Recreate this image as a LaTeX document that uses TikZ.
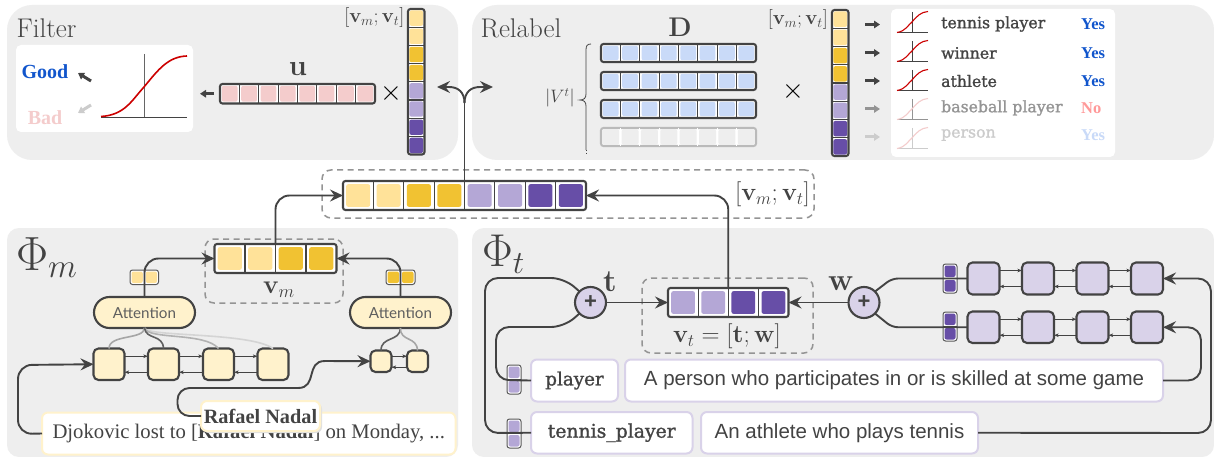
\RequirePackage{fix-cm}
\documentclass[tikz,border=0pt]{standalone}
\usepackage[no-math]{fontspec}
\usetikzlibrary{arrows.meta,calc}
\newfontfamily\slab[FakeBold=1.3]{DejaVu Serif}
\newfontfamily\tnr{Liberation Serif}
\newfontfamily\arial{Liberation Sans}
\newfontfamily\lato{Lato}
\definecolor{ink}{HTML}{434343}
\definecolor{panel}{HTML}{EEEEEE}
\definecolor{ylL}{HTML}{FFE299}
\definecolor{ylD}{HTML}{F1C232}
\definecolor{ppL}{HTML}{B4A7D6}
\definecolor{ppD}{HTML}{674EA7}
\definecolor{pink}{HTML}{F4CCCC}
\definecolor{blueL}{HTML}{C9DAF8}
\definecolor{blueD}{HTML}{1155CC}
\definecolor{yelBox}{HTML}{FFF2CC}
\definecolor{purBox}{HTML}{D9D2E9}
\definecolor{redC}{HTML}{CC0000}
\newcommand{\fsz}[1]{\fontsize{#1}{#1}\selectfont}
\newcommand{\mkbox}[7]{%
  \pgfmathsetmacro\cxx{((#3)+(#5))/2}\pgfmathsetmacro\cyy{((#4)+(#6))/2}%
  \pgfmathsetmacro\ww{abs((#5)-(#3))}\pgfmathsetmacro\hh{abs((#6)-(#4))}%
  \node[#2,minimum width=\ww pt,minimum height=\hh pt,inner sep=0pt,outer sep=0pt] (#1) at (\cxx,\cyy) {#7};}
\def\divc{ink}
% name x1 y1 x2 y2 line inset colours linewidth
\newcommand{\hvec}[9]{%
  \mkbox{#1}{draw=#6,line width=#9,fill=white,rounded corners=2.5}{#2+1}{#3+1}{#4-1}{#5-1}{}%
  \foreach \cc [count=\k] in {#8} {\xdef\nk{\k}}%
  \pgfmathsetmacro\cw{(#4-#2-2)/\nk}%
  \foreach \cc [count=\i from 0] in {#8} {%
    \fill[\cc,rounded corners=2] ({#2+1+\i*\cw+#7},{#3+1+#7}) rectangle ({#2+1+(\i+1)*\cw-#7},{#5-1-#7});
    \ifnum\i>0 \draw[\divc,line width=1.2] ({#2+1+\i*\cw},{#3+1}) -- ({#2+1+\i*\cw},{#5-1}); \fi
  }}
\newcommand{\vvec}[9]{%
  \mkbox{#1}{draw=#6,line width=#9,fill=white,rounded corners=2.5}{#2+1}{#3+1}{#4-1}{#5-1}{}%
  \foreach \cc [count=\k] in {#8} {\xdef\nk{\k}}%
  \pgfmathsetmacro\cw{(#5-#3-2)/\nk}%
  \foreach \cc [count=\i from 0] in {#8} {%
    \fill[\cc,rounded corners=2] ({#2+1+#7},{#3+1+\i*\cw+#7}) rectangle ({#4-1-#7},{#3+1+(\i+1)*\cw-#7});
    \ifnum\i>0 \draw[\divc,line width=1.2] ({#2+1},{#3+1+\i*\cw}) -- ({#4-1},{#3+1+\i*\cw}); \fi
  }}
\tikzset{
  panelbox/.style={fill=panel,rounded corners=#1},
  whitebox/.style={fill=white,rounded corners=5},
  dashbox/.style={draw=black!42,line width=1.5,dash pattern=on 6pt off 4.5pt,rounded corners=9},
  conn/.style={draw=ink,line width=1.9,-{Stealth[length=13pt,width=12pt,inset=4.5pt]}},
  plainc/.style={draw=ink,line width=1.9},
  fat/.style={line width=3,-{Triangle[length=6pt,width=7.5pt]}},
  thin arrow/.style={draw=ink,line width=0.9,-{Stealth[length=4.5pt,width=3.5pt,inset=1pt]}},
  lstmY/.style={draw=ink,line width=2.1,fill=yelBox,rounded corners=5},
  lstmP/.style={draw=ink,line width=2.1,fill=purBox,rounded corners=5},
  pill/.style={draw=ink,line width=2.1,fill=yelBox,rounded corners=15.5,text=ink!85,font=\lato\fsz{15.2}},
  ybox/.style={draw=yelBox,line width=2,fill=white,rounded corners=6,text=ink},
  pbox/.style={draw=purBox,line width=2,fill=white,rounded corners=6,text=ink},
  plusn/.style={circle,draw=ink,line width=2.1,fill=purBox,minimum size=31pt,inner sep=0pt,outer sep=0pt,text=ink,font=\arial\bfseries\fsz{22}},
  lab/.style={text=ink,inner sep=0pt},
}
\begin{document}
\begin{tikzpicture}[x=1pt,y=-1pt]
\useasboundingbox (0,0) rectangle (1214,457);
\fill[white] (0,0) rectangle (1214,457);
% panels
\fill[panelbox=25] (7,5) rectangle (458,160);
\fill[panelbox=25] (472,5) rectangle (1214,160);
\fill[panelbox=12] (7,228) rectangle (458,457);
\fill[panelbox=12] (472,228) rectangle (1214,457);
\node[lab,font=\fsz{27}] (tfilter) at (46.5,28.5) {Filter};
\node[lab,font=\fsz{27}] (trelabel) at (521,28.5) {Relabel};
\node[lab,font=\fsz{48},anchor=west] (tphim) at (16,258) {$\Phi_m$};
\node[lab,font=\fsz{46},anchor=west] (tphit) at (482,254) {$\Phi_t$};

% Filter panel
\fill[whitebox] (16,45) rectangle (193,132);
\node[inner sep=0pt,text=blueD,font=\tnr\bfseries\fsz{20}] (good) at (45,72) {Good};
\node[inner sep=0pt,text=pink,font=\tnr\bfseries\fsz{20}] (bad) at (45,118) {Bad};
\coordinate (ga) at (91,81); \coordinate (gb) at (78,73);
\coordinate (ba) at (91,105); \coordinate (bb) at (78,113);
\draw[fat,ink] (ga) -- (gb);
\draw[fat,black!20] (ba) -- (bb);
\draw[ink,line width=1.4] (101,117.5) -- (187,117.5);
\draw[black!60,line width=1] (144,54) -- (144,117.5);
\draw[redC,line width=1.6] (101,116.5) .. controls (125,115) and (132,100) .. (144,87) .. controls (158,70) and (168,56.5) .. (187,56);
\hvec{u}{219}{83}{376}{104.5}{ink}{1.8}{pink,pink,pink,pink,pink,pink,pink,pink}{2.1}
\node[lab,font=\fsz{29}] (ulab) at (298,69) {$\mathbf{u}$};
\draw[fat,ink] (u.west) ++(-6,0) -- ++(-14,0);
\node[inner sep=0pt,font=\fsz{28}] (timesA) at (391,94) {$\times$};
\vvec{cv1}{407}{8}{425.5}{155.5}{ink}{1.4}{ylL,ylL,ylD,ylD,ppL,ppL,ppD,ppD}{2.1}
\node[lab,font=\fsz{20},anchor=east] (cv1lab) at (404.5,17.5) {$[\mathbf{v}_m;\mathbf{v}_t]$};

% Relabel panel
\node[lab,font=\fsz{27}] (dlab) at (680,27) {$\mathbf{D}$};
\hvec{d1}{600}{43}{757}{63}{ink}{1.8}{blueL,blueL,blueL,blueL,blueL,blueL,blueL,blueL}{2.1}
\hvec{d2}{600}{71}{757}{91}{ink}{1.8}{blueL,blueL,blueL,blueL,blueL,blueL,blueL,blueL}{2.1}
\hvec{d3}{600}{99}{757}{119}{ink}{1.8}{blueL,blueL,blueL,blueL,blueL,blueL,blueL,blueL}{2.1}
\def\divc{white}
\hvec{d4}{600}{127}{757}{147}{black!27}{1.2}{panel,panel,panel,panel,panel,panel,panel,panel}{2.1}
\def\divc{ink}
\draw[ink,line width=0.8] (591,44) .. controls (587,44) and (586,46) .. (586,50) -- (586,94) .. controls (586,98) and (584,100) .. (580,100) .. controls (584,100) and (586,102) .. (586,106) -- (586,150);
\draw[ink,line width=0.8,dotted] (586,150) -- (586,155);
\node[lab,font=\fsz{18}] (vtlab) at (560,98) {$|V^t|$};
\node[inner sep=0pt,font=\fsz{28}] (timesB) at (793,92) {$\times$};
\vvec{cv2}{831}{9}{849.5}{157}{ink}{1.4}{ylL,ylL,ylD,ylD,ppL,ppL,ppD,ppD}{2.1}
\node[lab,font=\fsz{20},anchor=east] (cv2lab) at (828,19.5) {$[\mathbf{v}_m;\mathbf{v}_t]$};
\fill[whitebox] (891,9) rectangle (1115,157);
\foreach \yb/\yt/\ax/\tc/\crv/\ytt/\txt/\ans/\ansc/\ansy in {
   33/24.5/ink/ink/redC/24/tennis player/Yes/blueD/24.5,
   62/53/ink/ink/redC/53/winner/Yes/blueD/53,
   91/81/ink/ink/redC/81/athlete/Yes/blueD/81.5,
   120/109/black!42/black!42/pink/108/baseball player/No/red!40!white/108,
   149/137/black!20/black!20/pink/135/person/Yes/blueL/135.5}{
  \draw[fat,\ax] (865,\yt) -- (880,\yt);
  \draw[\ax,line width=1] (897,\yb) -- (928,\yb);
  \draw[\ax,line width=0.9] (912,\yb-21) -- (912,\yb);
  \draw[\crv,line width=1.1] (897,\yb-0.5) .. controls (906,\yb-2) and (908,\yb-8) .. (912,\yb-11) .. controls (917,\yb-17) and (921,\yb-21) .. (928,\yb-21.5);
  \node[inner sep=0pt,anchor=west,text=\tc,font=\slab\fsz{15.7}] at (941,\ytt) {\txt};
  \node[inner sep=0pt,anchor=west,text=\ansc,font=\tnr\bfseries\fsz{16.5}] at (1081,\ansy) {\ans};
}

% Concat
\mkbox{catd}{dashbox}{322}{170}{814}{218}{}
\hvec{cat}{342}{180}{587}{211}{ink}{3.2}{ylL,ylL,ylD,ylD,ppL,ppL,ppD,ppD}{2.1}
\node[lab,font=\fsz{25},anchor=east] (catlab) at (810,194.5) {$[\mathbf{v}_m;\mathbf{v}_t]$};
\coordinate (split) at (464.5,103);
\coordinate (fa) at (437,87);
\coordinate (ra) at (493,87);
\draw[plainc] (cat.north) -- (split);
\draw[conn] (split) .. controls (464.5,92) and (458,87) .. (449,87) -- (fa);
\draw[conn] (split) .. controls (464.5,92) and (471,87) .. (480,87) -- (ra);

% Phi_m
\mkbox{vmd}{dashbox}{205}{239}{343}{303}{}
\hvec{vm}{213.5}{243}{337.5}{274}{ink}{3.2}{ylL,ylL,ylD,ylD}{2.1}
\node[lab,font=\fsz{26}] (vmlab) at (279,290) {$\mathbf{v}_m$};
\draw[conn,rounded corners=14] (vm.north) |- (cat.west);
\mkbox{attL}{pill}{94}{297}{195}{328}{Attention}
\mkbox{attR}{pill}{350}{297}{451}{328}{Attention}
\hvec{smL}{129}{269}{159.5}{285.5}{black!65}{1.5}{ylL,ylL}{1}
\hvec{smR}{385}{269}{416}{285.5}{black!65}{1.5}{ylD,ylD}{1}
\draw[conn,rounded corners=14] (attL.north) |- (vm.west);
\draw[conn,rounded corners=14] (attR.north) |- (vm.east);
\mkbox{l1}{lstmY}{93.5}{348.5}{124.5}{380}{}
\mkbox{l2}{lstmY}{148}{348.5}{179}{380}{}
\mkbox{l3}{lstmY}{203}{348.5}{234}{380}{}
\mkbox{l4}{lstmY}{257.5}{348.5}{288.5}{380}{}
\foreach \a/\b in {l1/l2,l2/l3,l3/l4}{
  \draw[thin arrow] ($(\a.east)+(0,-8)$) -- ($(\b.west)+(0,-8)$);
  \draw[thin arrow] ($(\b.west)+(0,8)$) -- ($(\a.east)+(0,8)$);
}
\draw[line width=1.6,black!17] (attL.south) .. controls (146,337) and (250,332) .. (l4.north);
\draw[line width=1.6,black!30] (attL.south) .. controls (148,340) and (205,332) .. (l3.north);
\draw[line width=1.6,black!35] (attL.south) .. controls (144,340) and (109,334) .. (l1.north);
\draw[line width=1.6,ink!85] (attL.south) .. controls (146,340) and (163,334) .. (l2.north);
\mkbox{r1}{lstmY}{370.5}{350.5}{391.5}{372}{}
\mkbox{r2}{lstmY}{407}{350.5}{428}{372}{}
\draw[thin arrow] ($(r1.east)+(0,-5)$) -- ($(r2.west)+(0,-5)$);
\draw[thin arrow] ($(r2.west)+(0,6)$) -- ($(r1.east)+(0,6)$);
\draw[line width=1.6,ink!85] (attR.south) .. controls (400,342) and (381,336) .. (r1.north);
\draw[line width=1.6,black!35] (attR.south) .. controls (400,342) and (417,336) .. (r2.north);
\mkbox{sent}{ybox}{42}{412.5}{455.5}{454.5}{\tnr\fsz{20.7}Djokovic lost to [\textbf{Rafael Nadal}] on Monday, ...}
\fill[black!12,rounded corners=6] (203,403) rectangle (322,433);
\mkbox{men}{ybox,text=ink}{201}{401}{320}{431}{\tnr\bfseries\fsz{20.3}Rafael Nadal}
\coordinate (e1) at (18,434);
\coordinate (e2) at (18,365);
\draw[conn,rounded corners=14] (sent.west) -- (e1) -- (e2) -- (l1.west);
\coordinate (m1) at (177.5,416);
\coordinate (m2) at (177.5,388);
\coordinate (m3) at (298,388);
\coordinate (m4) at (325,361);
\draw[plainc,rounded corners=12] (men.west) -- (m1) -- (m2) -- (m3);
\draw[conn] (m3) .. controls (318,388) and (305,361) .. (m4) -- (r1.west);

% Phi_t
\mkbox{vtd}{dashbox}{642}{278}{813}{353}{}
\hvec{vt}{667}{287}{789.5}{318}{ink}{3.2}{ppL,ppL,ppD,ppD}{2.1}
\node[lab,font=\fsz{25}] (vtl) at (727,336) {$\mathbf{v}_t=[\mathbf{t};\mathbf{w}]$};
\draw[conn,rounded corners=14] (vt.north) |- (cat.east);
\node[plusn] (pl) at (590.5,302.5) {+};
\node[plusn] (pr) at (864,302.5) {+};
\node[lab,font=\fsz{31}] (tlab) at (610,282) {$\mathbf{t}$};
\node[lab,font=\fsz{31}] (wlab) at (841,284) {$\mathbf{w}$};
\draw[conn] (pl.east) -- (vt.west);
\draw[conn] (pr.west) -- (vt.east);
\mkbox{tyA}{pbox}{531}{359.5}{618}{401.5}{\slab\fsz{18.3}player}
\mkbox{defA}{pbox}{625}{359.5}{1163}{401.5}{\arial\fsz{20.5}A person who participates in or is skilled at some game}
\mkbox{tyB}{pbox}{531}{412}{692.5}{453.5}{\slab\fsz{18.8}tennis\_player}
\mkbox{defB}{pbox}{701}{412}{978}{453.5}{\arial\fsz{20.5}An athlete who plays tennis}
% left feeds
\coordinate (p1) at (496,380); \coordinate (p2) at (496,327); \coordinate (p3) at (564,327);
\coordinate (t1) at (485,433); \coordinate (t2) at (485,278); \coordinate (t3) at (564,278);
\vvec{sv1}{506}{364}{522}{395}{black!65}{1.5}{ppL,ppL}{1}
\vvec{sv2}{506}{418}{522}{449}{black!65}{1.5}{ppL,ppL}{1}
\draw[plainc,rounded corners=13] (tyA.west) -- (p1) -- (p2) -- (p3) -- (pl.south west);
\draw[plainc,rounded corners=13] (tyB.west) -- (t1) -- (t2) -- (t3) -- (pl.north west);
% right feeds
\coordinate (q1) at (892,278.5); \coordinate (q2) at (892,327.25);
\foreach \nm/\ya/\yb in {a/262.5/294.5,b/311.5/343}{
  \mkbox{\nm1}{lstmP}{967.5}{\ya}{999.5}{\yb}{}
  \mkbox{\nm2}{lstmP}{1022}{\ya}{1054}{\yb}{}
  \mkbox{\nm3}{lstmP}{1076.5}{\ya}{1108.5}{\yb}{}
  \mkbox{\nm4}{lstmP}{1131}{\ya}{1163}{\yb}{}
  \foreach \s/\e in {1/2,2/3,3/4}{
    \draw[thin arrow] ($(\nm\s.east)+(0,-8)$) -- ($(\nm\e.west)+(0,-8)$);
    \draw[thin arrow] ($(\nm\e.west)+(0,8)$) -- ($(\nm\s.east)+(0,8)$);
  }
}
\vvec{sv3}{942}{263}{958}{294}{black!65}{1.5}{ppD,ppD}{1}
\vvec{sv4}{942}{311}{958}{342}{black!65}{1.5}{ppD,ppD}{1}
\draw[plainc,rounded corners=6] (pr.north east) -- (q1) -- (a1.west);
\draw[plainc,rounded corners=6] (pr.south east) -- (q2) -- (b1.west);
\coordinate (x1) at (1201,380.5); \coordinate (x2) at (1201,327.25);
\coordinate (y1) at (1211,433); \coordinate (y2) at (1211,278.5);
\draw[conn,rounded corners=13] (defA.east) -- (x1) -- (x2) -- (b4.east);
\draw[conn,rounded corners=13] (defB.east) -- (y1) -- (y2) -- (a4.east);
\end{tikzpicture}
\end{document}
